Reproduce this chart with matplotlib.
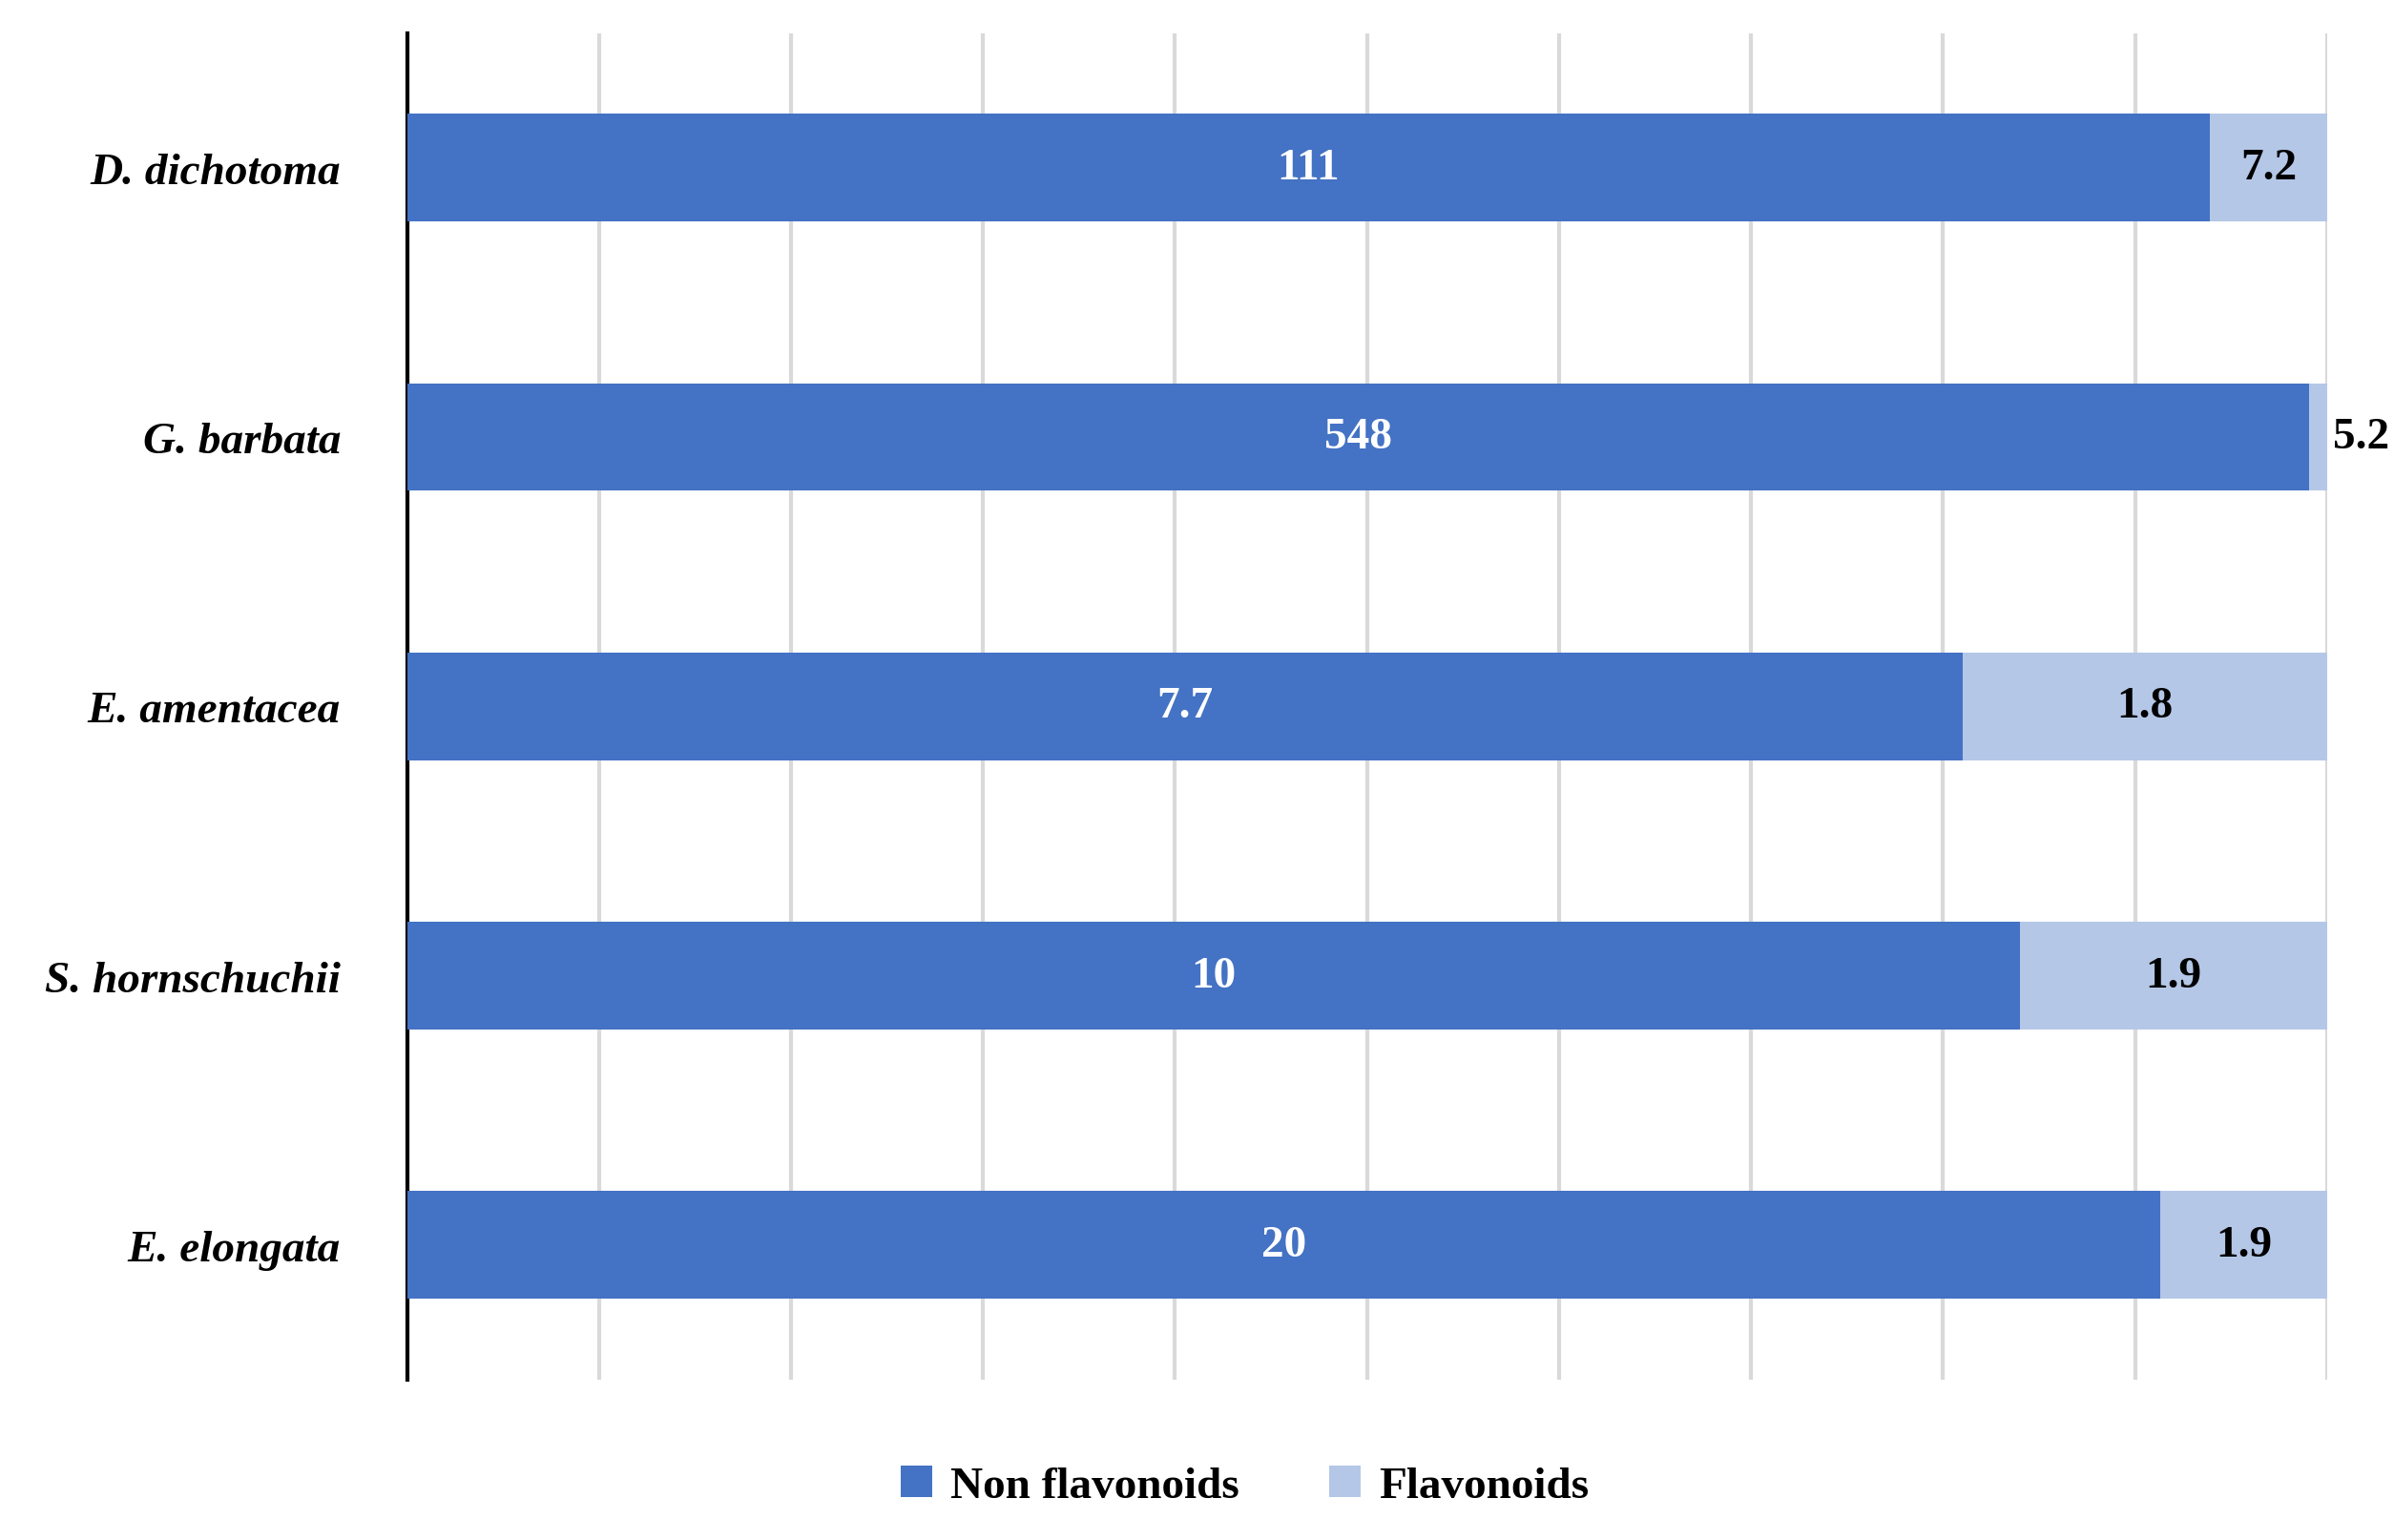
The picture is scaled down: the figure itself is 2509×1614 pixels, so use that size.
import matplotlib
matplotlib.use("Agg")
import matplotlib.pyplot as plt
import numpy as np

species = ["D. dichotoma", "G. barbata", "E. amentacea", "S. hornschuchii", "E. elongata"]
non_flav = [111, 548, 7.7, 10, 20]
flav = [7.2, 5.2, 1.8, 1.9, 1.9]
labels_non = ["111", "548", "7.7", "10", "20"]
labels_flav = ["7.2", "5.2", "1.8", "1.9", "1.9"]

plt.rcParams['font.family'] = ['Liberation Serif', 'DejaVu Serif']
fig = plt.figure(figsize=(25.09, 16.15), dpi=100)
ax = fig.add_axes([0.170, 0.104, 0.802, 0.874])

nf = np.array(non_flav); fl = np.array(flav)
tot = nf + fl
p1 = nf / tot * 100; p2 = fl / tot * 100
y = np.arange(len(species))
c1, c2 = "#4472C4", "#B4C7E7"
ax.barh(y, p1, height=0.4, color=c1, label="Non flavonoids", zorder=3)
ax.barh(y, p2, left=p1, height=0.4, color=c2, label="Flavonoids", zorder=3)
for i in range(len(y)):
    ax.text(p1[i] / 2, y[i], labels_non[i], ha="center", va="center", color="white",
            fontsize=34, fontweight="bold", zorder=4)
    cx = p1[i] + p2[i] / 2
    if p2[i] < 3:
        cx = 100 + 1.8
    ax.text(cx, y[i], labels_flav[i], ha="center", va="center", color="black",
            fontsize=34, fontweight="bold", zorder=4, clip_on=False)

ax.set_xlim(0, 100)
ax.set_ylim(4.5, -0.5)
ax.set_xticks(np.arange(0, 101, 10))
ax.set_xticklabels([])
ax.tick_params(axis="x", length=0)
ax.tick_params(axis="y", length=0, pad=50)
ax.set_yticks(y)
ax.set_yticklabels(species, fontsize=34, fontstyle="italic", fontweight="bold")
ax.grid(axis="x", color="#D9D9D9", linewidth=3, zorder=0)
for s in ["top", "right", "bottom"]:
    ax.spines[s].set_visible(False)
ax.spines["left"].set_linewidth(3)
ax.spines["left"].set_color("black")

fig.legend(loc="center", bbox_to_anchor=(0.52, 0.035), ncol=2, frameon=False,
           prop={"size": 34, "weight": "bold"}, handlelength=0.7, handleheight=0.7,
           columnspacing=2.0, handletextpad=0.4)
fig.savefig("out.png", dpi=100)
